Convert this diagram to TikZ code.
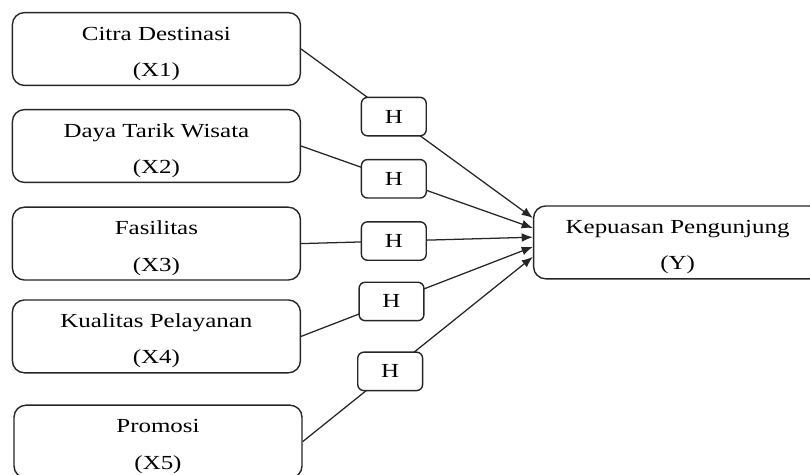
\documentclass[tikz,border=0pt]{standalone}
\usepackage{fontspec}
\setmainfont[FakeStretch=1.25]{Liberation Serif}
\usetikzlibrary{arrows.meta}
\newcommand{\atas}{\rule{0pt}{0.57cm}}
\tikzset{
  variabel/.style={draw=black!85, rounded corners=0.3cm, line width=1pt, minimum width=7.2cm, minimum height=1.82cm, inner ysep=0.08cm, align=center, font=\fontsize{14.2}{26}\selectfont},
  hipotesis/.style={draw=black!85, fill=white, rounded corners=0.15cm, line width=1pt, minimum width=1.62cm, minimum height=0.96cm, font=\fontsize{14.2}{17}\selectfont},
  panah/.style={draw=black!85, line width=0.9pt, -{Latex[length=2.8mm,width=2.2mm]}},
}

\begin{document}
\begin{tikzpicture}
          \useasboundingbox (0,0) rectangle (20.25,11.85);
          %variabel bebas
          \node[variabel] (x1) at (3.91,10.625) {\atas Citra Destinasi\\(X1)};
          \node[variabel] (x2) at (3.91,8.2) {\atas Daya Tarik Wisata\\(X2)};
          \node[variabel] (x3) at (3.91,5.76) {\atas Fasilitas\\(X3)};
          \node[variabel] (x4) at (3.91,3.44) {\atas Kualitas Pelayanan\\(X4)};
          \node[variabel] (x5) at (3.95,0.81) {\atas Promosi\\(X5)};
          %variabel terikat
          \node[variabel] (y) at (16.94,5.79) {\atas Kepuasan Pengunjung\\(Y)};
          %ujung panah
          \coordinate (y1) at ([yshift=0.61cm]y.west);
          \coordinate (y2) at ([yshift=0.36cm]y.west);
          \coordinate (y3) at ([yshift=0.13cm]y.west);
          \coordinate (y4) at ([yshift=-0.11cm]y.west);
          \coordinate (y5) at ([yshift=-0.36cm]y.west);
          %hipotesis
          \draw[panah] (x1.east) -- node[hipotesis, pos=0.4] (h1) {H} (y1);
          \draw[panah] (x2.east) -- node[hipotesis, pos=0.4] (h2) {H} (y2);
          \draw[panah] (x3.east) -- node[hipotesis, pos=0.4] (h3) {H} (y3);
          \draw[panah] (x4.east) -- node[hipotesis, pos=0.39] (h4) {H} (y4);
          \draw[panah] (x5.east) -- node[hipotesis, pos=0.38] (h5) {H} (y5);
        \end{tikzpicture}
\end{document}
